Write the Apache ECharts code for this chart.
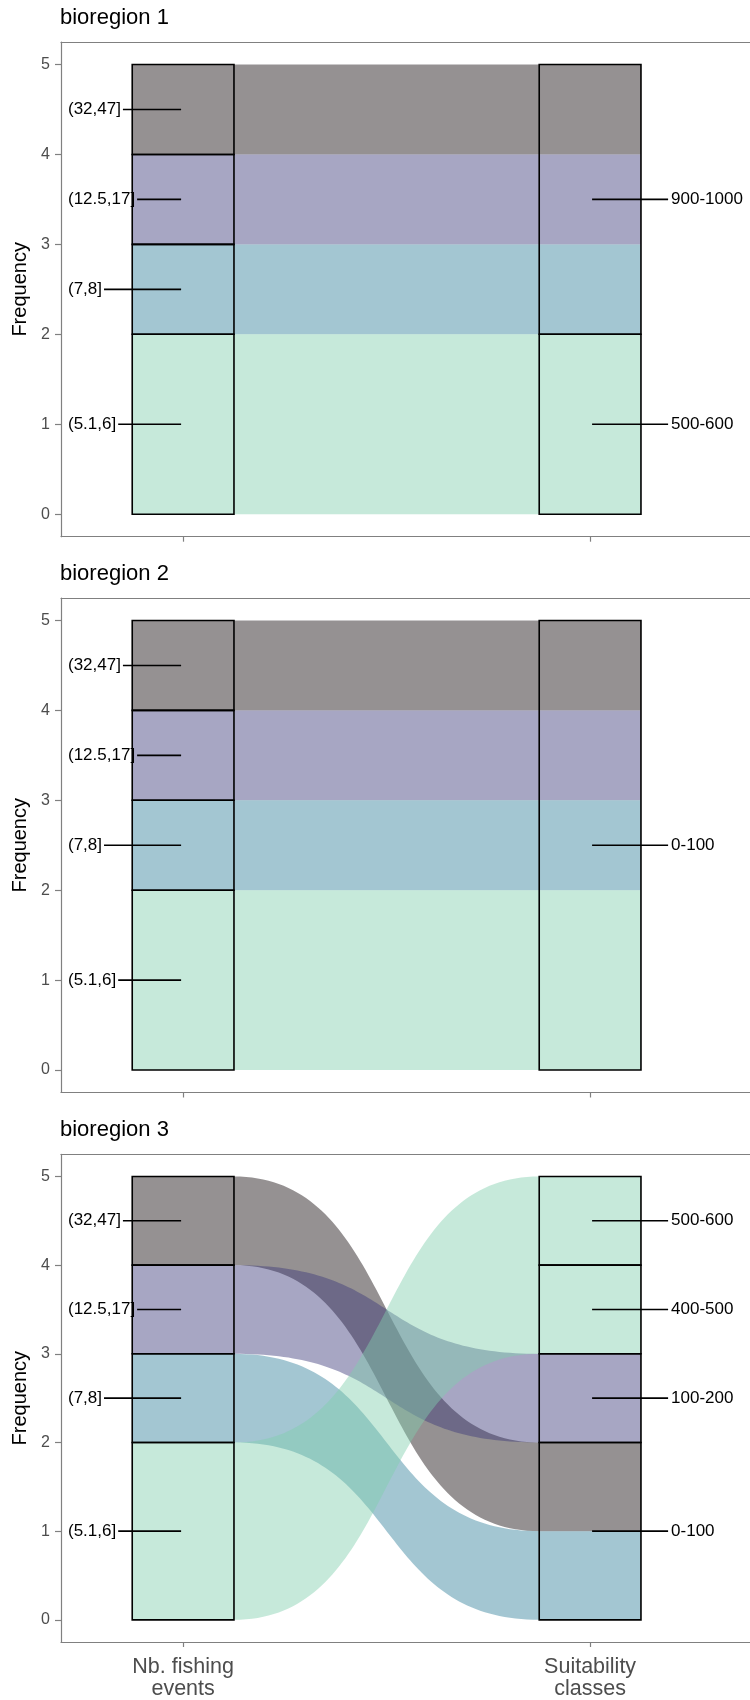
<!DOCTYPE html>
<html>
<head>
<meta charset="utf-8">
<script src="https://cdn.jsdelivr.net/npm/echarts@6/dist/echarts.min.js"></script>
<style>
  html, body { margin: 0; padding: 0; background: #ffffff; }
  #chart { width: 750px; height: 1700px; }
</style>
</head>
<body>
<div id="chart"></div>
<script>
// ---- data ----
const regionTitles = ['bioregion 1', 'bioregion 2', 'bioregion 3'];
const axisCategories = ['Nb. fishing\nevents', 'Suitability\nclasses'];
// fishing-event classes, stacked bottom to top
const fishingClasses = ['(5.1,6]', '(7,8]', '(12.5,17]', '(32,47]'];
// suitability classes per bioregion, stacked bottom to top
const suitability1 = ['500-600', '900-1000'];
const suitability2 = ['0-100'];
const suitability3 = ['0-100', '100-200', '400-500', '500-600'];
// flows: [fishing class, suitability class, frequency]
const flows1 = [
  ['(5.1,6]', '500-600', 2],
  ['(7,8]', '900-1000', 1],
  ['(12.5,17]', '900-1000', 1],
  ['(32,47]', '900-1000', 1]
];
const flows2 = [
  ['(5.1,6]', '0-100', 2],
  ['(7,8]', '0-100', 1],
  ['(12.5,17]', '0-100', 1],
  ['(32,47]', '0-100', 1]
];
const flows3 = [
  ['(5.1,6]', '400-500', 1],
  ['(5.1,6]', '500-600', 1],
  ['(7,8]', '0-100', 1],
  ['(12.5,17]', '100-200', 1],
  ['(32,47]', '0-100', 1]
];
const yTicks = [0, 1, 2, 3, 4, 5];

// ---- styling ----
const FONT = "'Liberation Sans', Arial, Helvetica, sans-serif";
// fill per fishing class (semi-transparent, mako-like ramp)
const classFill = {
  '(5.1,6]': 'rgba(128,206,173,0.45)',
  '(7,8]': 'rgba(51,128,155,0.45)',
  '(12.5,17]': 'rgba(59,57,122,0.45)',
  '(32,47]': 'rgba(19,11,13,0.45)'
};
const STRATUM_WIDTH = 0.25;   // in axis units
const CURVE_K = 0.55;          // bezier handle fraction
const BORDER = '#808080';
const X_MIN = 0.7, X_MAX = 2.3929;

const regions = [
  { title: regionTitles[0], right: suitability1, flows: flows1 },
  { title: regionTitles[1], right: suitability2, flows: flows2 },
  { title: regionTitles[2], right: suitability3, flows: flows3 }
];

const measureCtx = document.createElement('canvas').getContext('2d');
function textWidth(s, size) {
  measureCtx.font = size + 'px ' + FONT;
  return measureCtx.measureText(s).width;
}

// stack flows on both axes, ordered like an alluvial diagram
function layoutRegion(reg) {
  const fi = c => fishingClasses.indexOf(c);
  const ri = c => reg.right.indexOf(c);
  const items = reg.flows.map(f => ({ left: f[0], right: f[1], n: f[2] }));
  let y = 0;
  [...items].sort((a, b) => fi(a.left) - fi(b.left) || ri(a.right) - ri(b.right))
    .forEach(it => { it.l0 = y; y += it.n; it.l1 = y; });
  y = 0;
  [...items].sort((a, b) => ri(a.right) - ri(b.right) || fi(a.left) - fi(b.left))
    .forEach(it => { it.r0 = y; y += it.n; it.r1 = y; });
  // merge adjacent flows of the same class that stay adjacent at both ends
  items.sort((a, b) => a.l0 - b.l0);
  const merged = [];
  items.forEach(it => {
    const last = merged[merged.length - 1];
    if (last && last.left === it.left && last.l1 === it.l0 && last.r1 === it.r0) {
      last.l1 = it.l1; last.r1 = it.r1; last.n += it.n;
    } else merged.push(Object.assign({}, it));
  });
  // draw upper classes first so lower ones sit on top
  merged.sort((a, b) => fi(b.left) - fi(a.left));

  const strata = [];
  const labels = [];
  const stack = (classes, flowKey, xPos) => {
    let acc = 0;
    classes.forEach(c => {
      const n = reg.flows.filter(f => f[flowKey] === c).reduce((s, f) => s + f[2], 0);
      if (n > 0) {
        strata.push([xPos, acc, acc + n]);
        labels.push({ side: xPos, y: acc + n / 2, text: c });
      }
      acc += n;
    });
  };
  stack(fishingClasses, 0, 1);
  stack(reg.right, 1, 2);
  return { flows: merged, strata, labels };
}

const grids = [
  { left: 61, top: 42, width: 689, height: 494.7 },
  { left: 61, top: 598, width: 689, height: 494.5 },
  { left: 61, top: 1154.3, width: 689, height: 494.5 }
];

const borderLine = { show: true, onZero: false, lineStyle: { color: BORDER, width: 1.2 } };

const option = {
  backgroundColor: '#ffffff',
  animation: false,
  title: regions.map((r, i) => ({
    text: r.title,
    left: 60,
    top: grids[i].top - 35,
    padding: 0,
    textStyle: { fontFamily: FONT, fontSize: 22, fontWeight: 'normal', color: '#000' }
  })),
  grid: grids.map(g => Object.assign({ show: false }, g)),
  xAxis: grids.map((g, i) => ({
    gridIndex: i,
    type: 'value',
    position: 'bottom',
    min: X_MIN,
    max: X_MAX,
    axisLine: borderLine,
    splitLine: { show: false },
    axisTick: { show: true, customValues: [1, 2], length: 5, lineStyle: { color: BORDER, width: 1.2 } },
    axisLabel: {
      show: i === 2,
      customValues: [1, 2],
      formatter: v => axisCategories[Math.round(v) - 1] || '',
      fontFamily: FONT, fontSize: 21.5, lineHeight: 22, color: '#4d4d4d', margin: 14
    }
  })).concat(grids.map((g, i) => ({
    // top edge of the panel frame
    gridIndex: i,
    type: 'value',
    position: 'top',
    min: X_MIN,
    max: X_MAX,
    axisLine: borderLine,
    splitLine: { show: false },
    axisTick: { show: false },
    axisLabel: { show: false }
  }))),
  yAxis: grids.map((g, i) => ({
    gridIndex: i,
    type: 'value',
    min: -0.25,
    max: 5.25,
    name: 'Frequency',
    nameLocation: 'middle',
    nameGap: 31,
    nameTextStyle: { fontFamily: FONT, fontSize: 20, color: '#000' },
    axisLine: borderLine,
    splitLine: { show: false },
    axisTick: { show: true, customValues: yTicks, length: 6, lineStyle: { color: BORDER, width: 1.2 } },
    axisLabel: { customValues: yTicks, fontFamily: FONT, fontSize: 16, color: '#4d4d4d', margin: 11 }
  })),
  series: []
};

regions.forEach((reg, gi) => {
  const lay = layoutRegion(reg);
  const hw = STRATUM_WIDTH / 2;

  // alluvial flows
  option.series.push({
    type: 'custom',
    xAxisIndex: gi, yAxisIndex: gi,
    data: lay.flows.map(f => [1, f.l0, f.l1, f.r0, f.r1]),
    renderItem: (params, api) => {
      const f = lay.flows[params.dataIndex];
      const xL0 = api.coord([1 - hw, 0])[0], xL1 = api.coord([1 + hw, 0])[0];
      const xR0 = api.coord([2 - hw, 0])[0], xR1 = api.coord([2 + hw, 0])[0];
      const yL0 = api.coord([1, f.l0])[1], yL1 = api.coord([1, f.l1])[1];
      const yR0 = api.coord([2, f.r0])[1], yR1 = api.coord([2, f.r1])[1];
      const dx = xR0 - xL1;
      const bez = (ya, yb, t) => {
        const u = 1 - t;
        const x = u * u * u * xL1 + 3 * u * u * t * (xL1 + CURVE_K * dx) + 3 * u * t * t * (xR0 - CURVE_K * dx) + t * t * t * xR0;
        const y = u * u * u * ya + 3 * u * u * t * ya + 3 * u * t * t * yb + t * t * t * yb;
        return [x, y];
      };
      const pts = [[xL0, yL1]];
      const N = 80;
      for (let k = 0; k <= N; k++) pts.push(bez(yL1, yR1, k / N));
      pts.push([xR1, yR1], [xR1, yR0]);
      for (let k = N; k >= 0; k--) pts.push(bez(yL0, yR0, k / N));
      pts.push([xL0, yL0]);
      return { type: 'polygon', shape: { points: pts }, style: { fill: classFill[f.left], stroke: null } };
    },
    z: 1
  });

  // strata outlines
  option.series.push({
    type: 'custom',
    xAxisIndex: gi, yAxisIndex: gi,
    data: lay.strata,
    renderItem: (params, api) => {
      const x = api.value(0), y0 = api.value(1), y1 = api.value(2);
      const p0 = api.coord([x - hw, y1]);
      const p1 = api.coord([x + hw, y0]);
      return {
        type: 'rect',
        shape: { x: p0[0], y: p0[1], width: p1[0] - p0[0], height: p1[1] - p0[1] },
        style: { fill: 'none', stroke: '#000', lineWidth: 1.6 }
      };
    },
    z: 3
  });

  // class labels with leader lines
  option.series.push({
    type: 'custom',
    xAxisIndex: gi, yAxisIndex: gi,
    clip: false,
    data: lay.labels.map(l => [l.side, l.y]),
    renderItem: (params, api) => {
      const lab = lay.labels[params.dataIndex];
      const c = api.coord([lab.side, lab.y]);
      const size = 17;
      let tx, x1, x2;
      if (lab.side === 1) {
        tx = api.coord([X_MIN, 0])[0] + 7;
        x1 = tx + textWidth(lab.text, size) + 2;
        x2 = c[0] - 2;
      } else {
        tx = c[0] + 81;
        x1 = c[0] + 2;
        x2 = tx - 3;
      }
      return {
        type: 'group',
        children: [
          { type: 'line', shape: { x1: x1, y1: c[1], x2: x2, y2: c[1] }, style: { stroke: '#000', lineWidth: 1.6 } },
          { type: 'text', x: tx, y: c[1], style: { text: lab.text, fill: '#000', fontFamily: FONT, fontSize: size, align: 'left', verticalAlign: 'middle' } }
        ]
      };
    },
    z: 4
  });
});

const chart = echarts.init(document.getElementById('chart'), null, { renderer: 'canvas' });
chart.setOption(option);
</script>
</body>
</html>
